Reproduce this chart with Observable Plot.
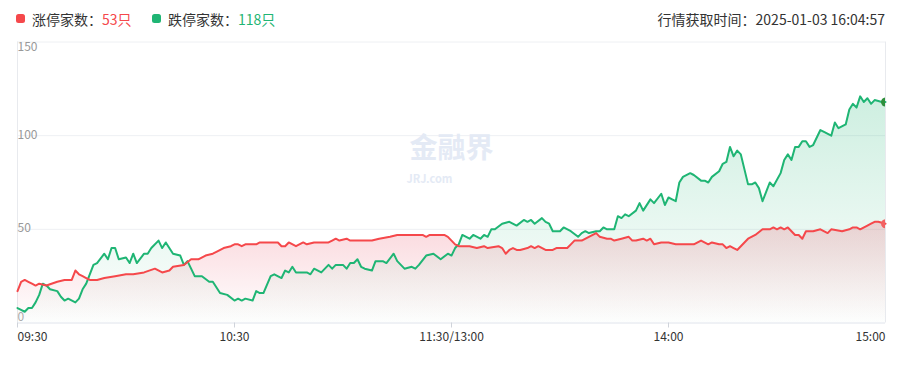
<!DOCTYPE html>
<html>
<head>
<meta charset="utf-8">
<script src="https://cdn.jsdelivr.net/npm/d3@7"></script>
<script src="https://cdn.jsdelivr.net/npm/@observablehq/plot@0.6"></script>
<style>
  body { margin: 0; background: #fff; font-family: "Noto Sans CJK SC", "Liberation Sans", sans-serif; }
  #wrap { width: 901px; }
  #header { position: relative; height: 30px; font-size: 14px; color: #333; }
  .item { position: absolute; top: 9px; line-height: 20px; white-space: nowrap; }
  .dot { position: absolute; top: 14px; width: 9px; height: 9px; border-radius: 2.5px; }
</style>
</head>
<body>
<div id="wrap">
  <div id="header"></div>
  <div id="chart"></div>
</div>
<script>
// ---- data ----
const legendLabels = ["涨停家数", "跌停家数"];
const updateLabel = "行情获取时间：2025-01-03 16:04:57";
const tickMinutes = [0, 60, 120, 180, 240];
const tickLabels = ["09:30", "10:30", "11:30/13:00", "14:00", "15:00"];
const yTicks = [0, 50, 100, 150];

// trading minutes since 09:30 (lunch break removed)
const upMinutes = [0,1,2,3,4,5,6,8,11,13,15,16,17,18,19,20,22,24,27,30,32,35,38,40,42,43,46,48,50,52,54,55,57,59,60,61,62,63,66,67,72,73,74,75,77,79,80,82,86,87,88,89,91,92,98,100,103,105,112,113,114,118,119,120,121,122,125,127,129,130,133,134,135,136,137,138,139,141,142,143,144,146,148,149,152,153,154,156,158,160,161,163,164,165,167,169,170,171,173,174,175,176,178,180,182,187,189,191,192,194,195,196,197,198,199,200,202,204,206,208,209,210,211,212,213,215,216,217,218,220,222,224,225,228,230,231,232,233,235,236,237,238,240];
const upValues  = [17,22,23,22,21,20,21,20,22,23,23,28,26,25,24,23,23,24,25,26,26,27,29,27,28,30,31,34,34,36,37,38,40,41,42,42,41,42,42,43,43,41,41,43,41,43,42,43,43,44,45,44,45,44,44,45,46,47,47,46,47,47,46,44,42,41,41,40,41,40,41,40,37,39,40,39,39,40,41,40,41,39,39,40,40,42,44,44,46,48,46,45,45,44,45,46,44,44,45,44,45,42,43,43,42,42,44,42,43,42,42,40,41,40,39,41,45,47,50,50,51,50,51,50,51,47,47,45,49,49,50,48,50,49,50,51,51,50,52,53,54,54,53];

const downMinutes = [0,1,2,3,4,5,6,7,8,9,11,12,13,14,16,17,18,19,21,22,24,25,26,27,28,30,31,32,33,35,36,37,39,40,41,43,45,46,47,48,49,51,53,54,56,58,60,61,62,63,65,66,67,68,70,71,73,74,75,76,77,80,81,82,84,86,87,88,90,91,92,93,94,95,96,98,99,101,102,104,105,107,109,110,111,113,115,117,119,120,121,122,123,125,126,128,129,130,131,132,134,136,138,140,141,142,143,145,146,147,148,150,151,153,155,156,157,158,160,161,162,163,165,166,167,168,169,171,172,173,175,176,178,179,180,181,182,183,184,186,187,189,190,191,192,194,195,196,197,198,199,200,201,202,203,204,205,206,207,208,209,211,212,213,214,215,216,217,218,219,220,222,223,225,226,227,229,230,231,232,233,234,235,236,237,239,240];
const downValues  = [8,7,6,8,8,11,15,21,20,18,17,14,12,13,11,13,18,21,31,32,37,34,40,40,34,35,32,37,32,37,37,40,44,40,43,37,36,31,33,29,25,25,22,22,16,15,12,13,12,13,12,17,16,16,25,26,24,28,27,30,27,27,26,29,27,31,29,31,31,29,32,32,34,30,29,28,33,33,32,37,33,29,30,29,31,36,37,34,37,36,40,42,47,45,47,45,47,46,50,50,53,54,52,55,54,55,53,56,54,53,49,49,51,49,46,48,49,48,49,49,51,50,50,57,56,58,57,60,64,60,66,64,69,63,67,66,65,75,78,80,79,76,76,75,78,81,85,86,94,89,92,90,82,74,74,75,72,65,70,75,73,80,87,90,87,94,94,97,97,94,95,103,102,100,107,104,106,114,117,115,121,118,120,117,119,118,118];

const upColor = "#f5484b";
const downColor = "#1fb574";

// ---- header ----
const header = document.getElementById("header");
const lastUp = upValues[upValues.length - 1];
const lastDown = downValues[downValues.length - 1];
header.innerHTML = `
  <span class="dot" style="left:16px;background:${upColor}"></span>
  <span class="item" style="left:32px">${legendLabels[0]}：<span style="color:${upColor}">${lastUp}只</span></span>
  <span class="dot" style="left:152px;background:${downColor}"></span>
  <span class="item" style="left:168px">${legendLabels[1]}：<span style="color:${downColor}">${lastDown}只</span></span>
  <span class="item" style="right:16px">${updateLabel}</span>`;

const up = upMinutes.map((m, i) => ({m, v: upValues[i]}));
const down = downMinutes.map((m, i) => ({m, v: downValues[i]}));
const font = "Noto Sans CJK SC";

const chart = Plot.plot({
  width: 901,
  height: 349,
  marginLeft: 17,
  marginRight: 16,
  marginTop: 11.5,
  marginBottom: 56.5,
  style: {fontFamily: font, background: "transparent"},
  x: {domain: [0, 240], axis: null},
  y: {domain: [0, 150], axis: null},
  marks: [
    Plot.ruleY([50, 100, 150], {stroke: "#eef0f3", strokeWidth: 1}),
    Plot.ruleX([0, 240], {stroke: "#e8eaee"}),
    Plot.text(["金融界"], {frameAnchor: "middle", dx: 0, dy: -33, fontSize: 28, fontWeight: "bold", fill: "#e4eaf5", letterSpacing: "3px"}),
    Plot.text(["JRJ.com"], {frameAnchor: "middle", dx: -22, dy: -3, fontSize: 11, fontWeight: "bold", fill: "#e4eaf5"}),
    Plot.areaY(down, {x: "m", y: "v", fill: "url(#gradDown)"}),
    Plot.areaY(up, {x: "m", y: "v", fill: "url(#gradUp)"}),
    Plot.lineY(down, {x: "m", y: "v", stroke: downColor, strokeWidth: 2}),
    Plot.lineY(up, {x: "m", y: "v", stroke: upColor, strokeWidth: 2}),
    Plot.dot([down[down.length - 1]], {x: "m", y: "v", r: 4.5, fill: "#2f8f3c", clip: "frame"}),
    Plot.dot([up[up.length - 1]], {x: "m", y: "v", r: 4.5, fill: "#f26262", clip: "frame"}),
    Plot.ruleY([0], {stroke: "#e0e4ec"}),
    Plot.axisX({ticks: tickMinutes.slice(0, 4), tickSize: 5, tickFormat: () => "", stroke: "#cfd3da", label: null}),
    // y labels
    Plot.text(yTicks.filter(d => d === 150), {x: () => 0, y: d => d, text: d => String(d), textAnchor: "start", lineAnchor: "top", dy: 0, fontSize: 12, fill: "#999"}),
    Plot.text(yTicks.filter(d => d === 50 || d === 100), {x: () => 0, y: d => d, text: d => String(d), textAnchor: "start", dy: -1, fontSize: 12, fill: "#999"}),
    Plot.text(yTicks.filter(d => d === 0), {x: () => 0, y: d => d, text: d => String(d), textAnchor: "start", dy: -5.5, fontSize: 12, fill: "#aaa"}),
    // x labels
    Plot.text([0], {x: d => tickMinutes[d], y: () => 0, text: d => tickLabels[d], textAnchor: "start", lineAnchor: "top", dy: 9, fontSize: 12, fill: "#333"}),
    Plot.text([1, 2, 3], {x: d => tickMinutes[d], y: () => 0, text: d => tickLabels[d], textAnchor: "middle", lineAnchor: "top", dy: 9, fontSize: 12, fill: "#333"}),
    Plot.text([4], {x: d => tickMinutes[d], y: () => 0, text: d => tickLabels[d], textAnchor: "end", lineAnchor: "top", dy: 9, fontSize: 12, fill: "#333"})
  ]
});

const defs = d3.select(chart).insert("defs", ":first-child");
const gd = defs.append("linearGradient").attr("id", "gradDown").attr("x1", 0).attr("y1", 0).attr("x2", 0).attr("y2", 1);
gd.append("stop").attr("offset", "0%").attr("stop-color", downColor).attr("stop-opacity", 0.22);
gd.append("stop").attr("offset", "100%").attr("stop-color", downColor).attr("stop-opacity", 0.01);
const gu = defs.append("linearGradient").attr("id", "gradUp").attr("x1", 0).attr("y1", 0).attr("x2", 0).attr("y2", 1);
gu.append("stop").attr("offset", "0%").attr("stop-color", "#e8485f").attr("stop-opacity", 0.22);
gu.append("stop").attr("offset", "100%").attr("stop-color", "#e8485f").attr("stop-opacity", 0.0);

document.getElementById("chart").appendChild(chart);
</script>
</body>
</html>
